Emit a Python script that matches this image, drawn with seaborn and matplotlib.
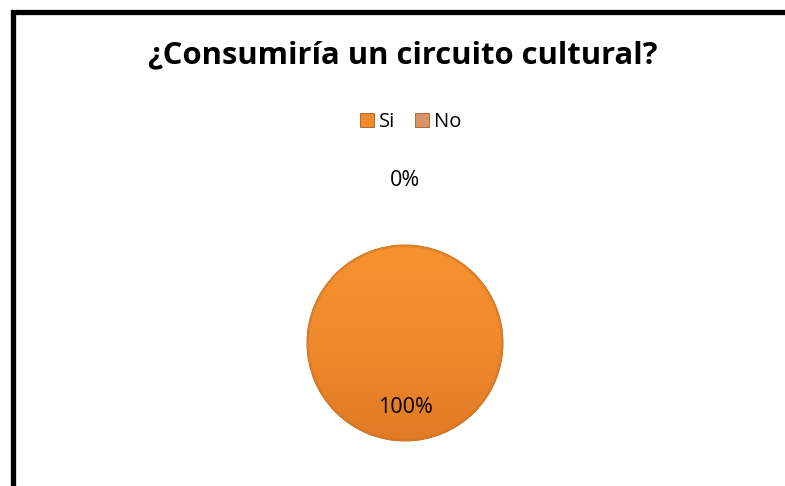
import numpy as np
import matplotlib
matplotlib.use("Agg")
import matplotlib.pyplot as plt
import seaborn as sns
from matplotlib.patches import Rectangle
from matplotlib.lines import Line2D

categories = ["Si", "No"]
values = [100, 0]
pct_labels = ["100%", "0%"]
title = "¿Consumiría un circuito cultural?"

sns.set_theme(style="white")
plt.rcParams['font.family'] = ['Open Sans', 'DejaVu Sans']
plt.rcParams['text.color'] = 'black'

colors = ["#F08A2E", "#D99468"]

W, H = 785, 486
fig = plt.figure(figsize=(W / 100, H / 100), dpi=100)
fig.patch.set_facecolor("white")

cx, cy, r = 405, 143, 98
ax = fig.add_axes([(cx - r) / W, (cy - r) / H, 2 * r / W, 2 * r / H])
wedges, _ = ax.pie(values, colors=colors, startangle=90, counterclock=False,
                   wedgeprops=dict(edgecolor="#B8651F", linewidth=0.7))
ax.set_xlim(-1, 1)
ax.set_ylim(-1, 1)
ax.set_aspect("equal")
ax.axis("off")

# subtle vertical gradient shading on the slice
grad = np.linspace(0, 1, 256).reshape(-1, 1)
for w, c in zip(wedges, colors):
    if w.theta2 - w.theta1 == 0:
        continue
    cmap = sns.blend_palette(["#E07A24", c, "#F6922F"], as_cmap=True)
    im = ax.imshow(grad, extent=(-1, 1, -1, 1), origin="lower", cmap=cmap,
                   aspect="auto", zorder=w.get_zorder() + 0.1)
    im.set_clip_path(w)
    ax.add_patch(plt.Circle((0, 0), 0.99, fill=False, edgecolor="#D0741F",
                            linewidth=1.5, alpha=0.5, zorder=w.get_zorder() + 0.2))

label_dist = [0.66, 1.66]
for w, lab, d in zip(wedges, pct_labels, label_dist):
    ang = np.deg2rad((w.theta1 + w.theta2) / 2)
    ax.text(d * np.cos(ang), d * np.sin(ang), lab, ha="center", va="center",
            fontsize=15.5, color="black", clip_on=False, zorder=10)

fig.text(403 / W, 1 - 55 / H, title, ha="center", va="center",
         fontsize=22.3, fontweight="bold", color="black")

handles = [Line2D([0], [0], marker="s", linestyle="none", markersize=10,
                  markerfacecolor=c, markeredgecolor="#A85A1A", markeredgewidth=0.6)
           for c in colors]
leg = fig.legend(handles, categories, loc="center", bbox_to_anchor=(410 / W, 1 - 122 / H),
                 ncol=2, frameon=False, fontsize=14.5, handlelength=0.8, handletextpad=0.2,
                 columnspacing=0.9)
for t in leg.get_texts():
    t.set_color("black")

# chart border (left and top visible)
fig.add_artist(Rectangle((12.5 / W, -0.1), 1.2, 1 - 12.5 / H + 0.1,
                         transform=fig.transFigure, fill=False,
                         edgecolor="black", linewidth=3.8, clip_on=False))

fig.savefig("out.png", dpi=100, facecolor="white")
